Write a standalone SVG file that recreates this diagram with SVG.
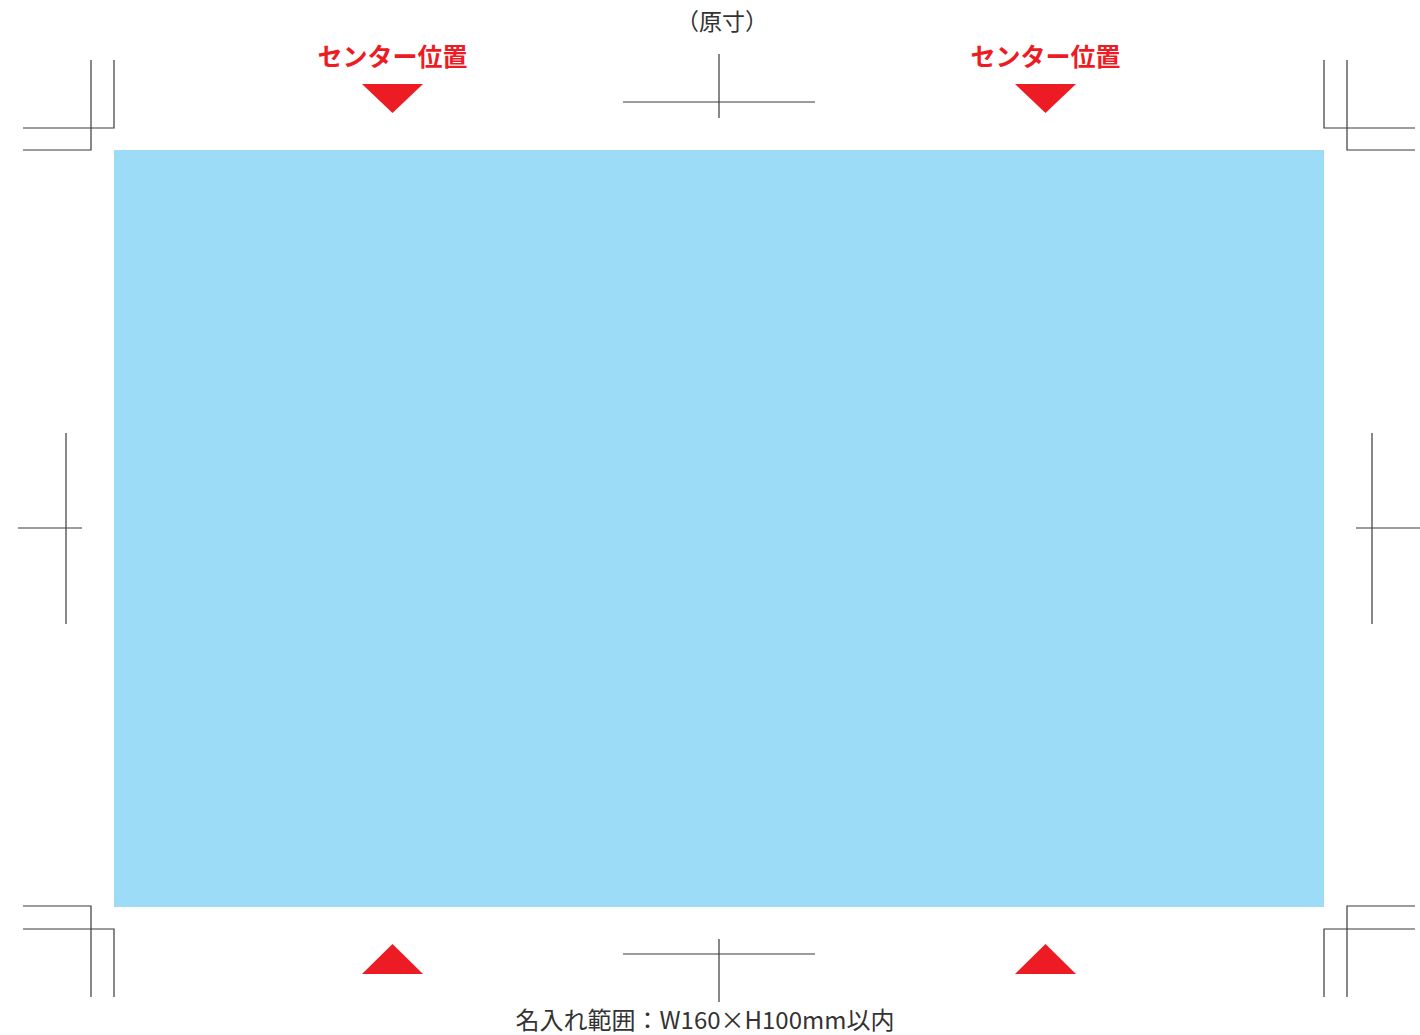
<svg xmlns="http://www.w3.org/2000/svg" width="1420" height="1035" viewBox="0 0 1420 1035">
<style>
.m{stroke:#3a3a3a;stroke-width:1.2;fill:none}
.red{fill:#ED1C24}
.lbl{font-family:"Noto Sans CJK JP","Noto Sans",sans-serif;font-weight:700;font-size:25px;fill:#ED1C24;text-anchor:middle}
.txt{font-family:"Noto Sans CJK JP","Noto Sans",sans-serif;font-size:23px;fill:#333;text-anchor:middle}
</style>
<rect width="1420" height="1035" fill="#fff"/>
<g id="area"><rect x="114" y="150" width="1210" height="757" fill="#9DDCF6"/></g>
<g id="marks">
<path class="m" d="M91 60V150H23M114 60V128H23"/>
<path class="m" d="M1347 60V150H1415M1324 60V128H1415"/>
<path class="m" d="M91 997V906H23M114 997V929H23"/>
<path class="m" d="M1347 997V906H1415M1324 997V929H1415"/>
<path class="m" d="M719 54V118M623 102H815"/>
<path class="m" d="M719 939V1002M623 954H815"/>
<path class="m" d="M66 433V624M18 528H82"/>
<path class="m" d="M1372 433V624M1356 528H1420"/>
</g>
<g id="center-left">
<text class="lbl" x="392.5" y="66">センター位置</text>
<polygon class="red" points="362,84 423,84 392.5,113"/>
<polygon class="red" points="362,974 423,974 392.5,944"/>
</g>
<g id="center-right">
<text class="lbl" x="1045.5" y="66">センター位置</text>
<polygon class="red" points="1015,84 1076,84 1045.5,113"/>
<polygon class="red" points="1015,974 1076,974 1045.5,944"/>
</g>
<g id="title"><text class="txt" x="722" y="30">（原寸）</text></g>
<g id="caption"><text class="txt" x="705" y="1029" style="font-size:24px">名入れ範囲：W160×H100mm以内</text></g>
</svg>
